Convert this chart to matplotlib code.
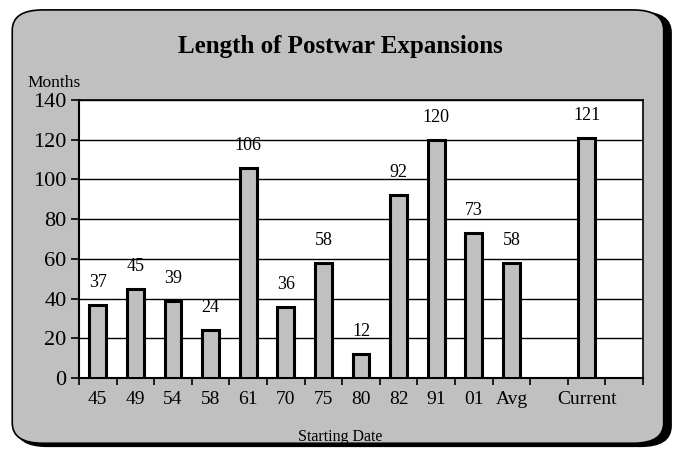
import matplotlib.pyplot as plt
import numpy as np
from matplotlib.patches import FancyBboxPatch

plt.rcParams['font.family'] = ['Liberation Serif', 'DejaVu Serif']

labels = ['45', '49', '54', '58', '61', '70', '75', '80', '82', '91', '01', 'Avg', '', 'Current', '']
months = [37, 45, 39, 24, 106, 36, 58, 12, 92, 120, 73, 58, None, 121, None]

fig = plt.figure(figsize=(6.8, 4.5), dpi=100)
fig.patch.set_facecolor('white')

# background panel with shadow
shadow = FancyBboxPatch((0.024, 0.008), 0.963, 0.965, boxstyle='round,pad=0,rounding_size=0.045',
                        transform=fig.transFigure, facecolor='black', edgecolor='black', zorder=0)
panel = FancyBboxPatch((0.018, 0.015), 0.958, 0.963, boxstyle='round,pad=0,rounding_size=0.045',
                       transform=fig.transFigure, facecolor='#c0c0c0', edgecolor='black',
                       linewidth=1.2, zorder=1)
fig.patches.extend([shadow, panel])

ax = fig.add_axes([79/680, 1 - 378/450, (643-79)/680, (378-100)/450])
ax.set_zorder(2)
ax.set_facecolor('white')

x = np.arange(len(labels))
for xi, v in zip(x, months):
    if v is None:
        continue
    ax.bar(xi, v, width=0.45, color='#c0c0c0', edgecolor='black', linewidth=2.2, zorder=3)
    ax.annotate(str(v), (xi, v), xytext=(0, 10), textcoords='offset points',
                ha='center', va='bottom', fontsize=13)

ax.set_xlim(-0.5, len(labels) - 0.5)
ax.set_ylim(0, 140)
ax.set_yticks(range(0, 141, 20))
ax.yaxis.grid(True, color='black', linewidth=1.0)
ax.set_axisbelow(True)
ax.tick_params(axis='y', labelsize=16, length=6, width=1.2, direction='out', pad=3)

ax.set_xticks(x)
ax.set_xticklabels(labels, fontsize=14)
ax.set_xticks(np.arange(-0.5, len(labels), 1), minor=True)
ax.tick_params(axis='x', which='major', length=0, pad=9)
ax.tick_params(axis='x', which='minor', length=5, width=1.2, direction='out')

for s in ax.spines.values():
    s.set_linewidth(1.2)
ax.spines['left'].set_linewidth(1.5)
ax.spines['bottom'].set_linewidth(1.5)

fig.text(0.5, 1 - 47/450, 'Length of Postwar Expansions', ha='center', va='center',
         fontsize=18, fontweight='bold')
fig.text(27/680, 1 - 83/450, 'Months', ha='left', va='center', fontsize=12.5)
fig.text(0.5, 1 - 437/450, 'Starting Date', ha='center', va='center', fontsize=11.5)

fig.savefig('out.png', dpi=100, facecolor=fig.get_facecolor())
